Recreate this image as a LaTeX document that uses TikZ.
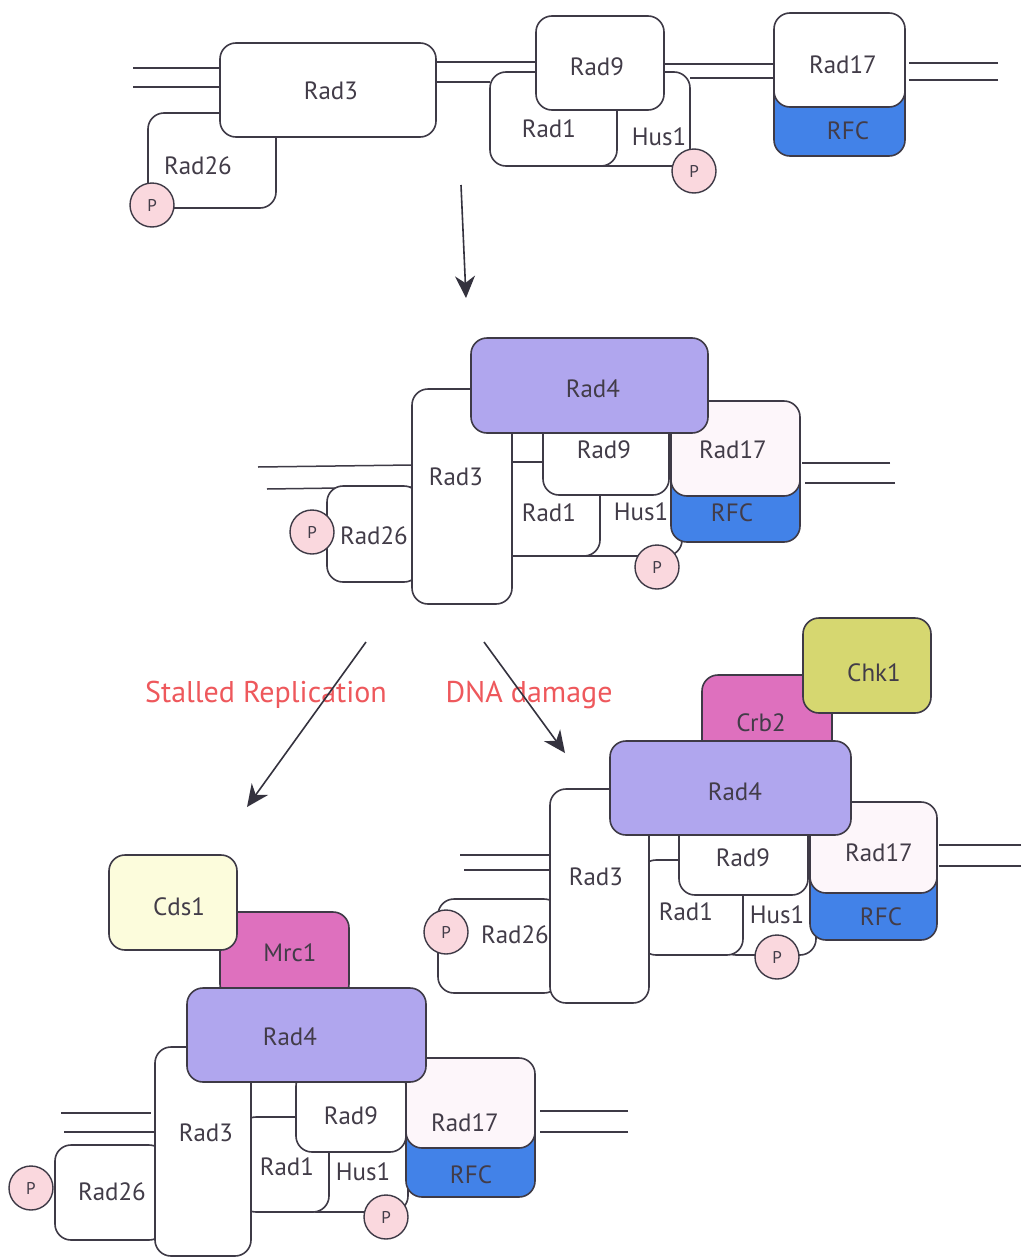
\documentclass[tikz,border=0pt]{standalone}
\usepackage{fontspec}
\setmainfont{PT Sans}
\usetikzlibrary{arrows.meta}

\definecolor{edge}{RGB}{62,58,70}
\definecolor{ink}{RGB}{66,60,72}
\definecolor{rad4}{RGB}{176,166,238}
\definecolor{rfc}{RGB}{66,130,232}
\definecolor{adaptor}{RGB}{222,112,190}
\definecolor{chk}{RGB}{214,215,112}
\definecolor{cds}{RGB}{252,252,220}
\definecolor{clamp}{RGB}{253,246,250}
\definecolor{phosfill}{RGB}{250,216,222}
\definecolor{signal}{RGB}{238,88,92}
\definecolor{arrowink}{RGB}{52,50,62}

\pgfdeclarelayer{paper}
\pgfdeclarelayer{strands}
\pgfsetlayers{paper,strands,main}

% a protein drawn as a rounded box: [style]{name}{x1}{y1}{x2}{y2}
\newcommand{\protein}[6][]{%
  \node[box,#1,minimum width={(#5-#3)*1pt},minimum height={(#6-#4)*1pt}]
    (#2) at ({(#3+#5)/2},{(#4+#6)/2}) {};}
% a protein name: {name}{x}{y}{text}
\newcommand{\pname}[4]{\node[lbl] (#1) at (#2,#3) {#4};}

\begin{document}
\begin{tikzpicture}[x=1pt,y=-1pt,
  box/.style={draw=edge,line width=1.6pt,rounded corners=16pt,fill=white,
    inner sep=0pt,outer sep=0pt},
  lbl/.style={text=ink,font=\fontsize{25}{27}\selectfont,inner sep=0pt,
    text height=17pt,text depth=0pt},
  phos/.style={circle,draw=edge,line width=1.4pt,fill=phosfill,
    minimum size=44pt,inner sep=0pt,text=ink,font=\fontsize{17}{18}\selectfont},
  dna/.style={draw=edge,line width=1.5pt},
  flow/.style={draw=arrowink,line width=1.6pt,
    -{Stealth[length=22pt,width=20pt,inset=7pt]}},
  cue/.style={text=signal,font=\fontsize{30}{33}\selectfont,inner sep=0pt,
    text height=21pt,text depth=0pt}]

\begin{pgfonlayer}{paper}
  \useasboundingbox[fill=white] (0,0) rectangle (1021,1258);
\end{pgfonlayer}

% ---------- resting complex on DNA ----------
\protein{r26a}{148}{113}{276}{208}
\protein{r3a}{220}{43}{436}{137}
\protein{h1a}{570}{72}{690}{166}
\protein{r1a}{490}{72}{617}{166}
\protein{r9a}{536}{16}{664}{110}
\protein[fill=rfc]{rfca}{774}{55}{905}{156}
\protein{r17a}{774}{13}{905}{107}
\node[phos] (pa1) at (152,205) {P};
\node[phos] (pa2) at (694,171) {P};
\pname{t-r3a}{331}{91}{Rad3}
\pname{t-r26a}{198}{166}{Rad26}
\pname{t-r9a}{597}{67}{Rad9}
\pname{t-r1a}{549}{129}{Rad1}
\pname{t-h1a}{659}{137}{Hus1}
\pname{t-r17a}{843}{65}{Rad17}
\pname{t-rfca}{848}{131}{RFC}

\begin{pgfonlayer}{strands}
  \coordinate (a-l1) at (133,68);  \draw[dna] (a-l1) -- (a-l1 -| r3a.west);
  \coordinate (a-l2) at (133,87);  \draw[dna] (a-l2) -- (a-l2 -| r3a.west);
  \coordinate (a-m1) at (436,62);  \draw[dna] (a-m1 -| r3a.east) -- (a-m1 -| r9a.west);
  \coordinate (a-m2) at (436,82);  \draw[dna] (a-m2 -| r3a.east) -- (a-m2 -| r1a.west);
  \coordinate (a-n1) at (664,64);  \draw[dna] (a-n1 -| r9a.east) -- (a-n1 -| r17a.west);
  \coordinate (a-n2) at (690,78);  \draw[dna] (a-n2 -| h1a.east) -- (a-n2 -| r17a.west);
  \coordinate (a-r1) at (998,63);  \draw[dna] (a-r1) -- ([xshift=4pt]a-r1 -| r17a.east);
  \coordinate (a-r2) at (998,80);  \draw[dna] (a-r2) -- ([xshift=4pt]a-r2 -| r17a.east);
\end{pgfonlayer}

% ---------- Rad4 recruited ----------
\protein{r26b}{327}{486}{420}{582}
\protein{h1b}{560}{462}{682}{556}
\protein{r1b}{495}{462}{600}{556}
\protein{r3b}{412}{389}{512}{604}
\protein{r9b}{543}{415}{669}{495}
\protein[fill=rfc]{rfcb}{671}{445}{800}{542}
\protein[fill=clamp]{r17b}{671}{401}{800}{496}
\protein[fill=rad4]{r4b}{471}{338}{708}{433}
\node[phos] (pb1) at (312,532) {P};
\node[phos] (pb2) at (657,567) {P};
\pname{t-r4b}{593}{389}{Rad4}
\pname{t-r3b}{456}{477}{Rad3}
\pname{t-r26b}{374}{536}{Rad26}
\pname{t-r9b}{604}{450}{Rad9}
\pname{t-r1b}{549}{513}{Rad1}
\pname{t-h1b}{641}{512}{Hus1}
\pname{t-r17b}{733}{450}{Rad17}
\pname{t-rfcb}{732}{513}{RFC}

\begin{pgfonlayer}{strands}
  \coordinate (b-l1) at (258,467); \draw[dna] (b-l1) -- ([yshift=2pt]b-l1 -| r3b.west);
  \coordinate (b-l2) at (267,489); \draw[dna] (b-l2) -- ([yshift=2pt]b-l2 -| r3b.west);
  \coordinate (b-r1) at (890,463); \draw[dna] (b-r1) -- ([xshift=2pt]b-r1 -| r17b.east);
  \coordinate (b-r2) at (895,483); \draw[dna] (b-r2) -- ([xshift=5pt]b-r2 -| r17b.east);
\end{pgfonlayer}

% ---------- DNA damage: Crb2 and Chk1 ----------
\protein{r26c}{438}{899}{560}{993}
\protein{h1c}{720}{860}{816}{955}
\protein{r1c}{640}{860}{743}{955}
\protein{r3c}{550}{789}{649}{1003}
\protein{r9c}{679}{820}{808}{895}
\protein[fill=rfc]{rfcc}{810}{845}{937}{940}
\protein[fill=clamp]{r17c}{810}{802}{937}{893}
\protein[fill=adaptor]{crb2}{702}{675}{832}{760}
\protein[fill=chk]{chk1}{803}{618}{931}{713}
\protein[fill=rad4]{r4c}{610}{741}{851}{835}
\node[phos] (pc1) at (446,932) {P};
\node[phos] (pc2) at (777,957) {P};
\pname{t-chk1}{874}{673}{Chk1}
\pname{t-crb2}{761}{723}{Crb2}
\pname{t-r4c}{735}{792}{Rad4}
\pname{t-r3c}{596}{877}{Rad3}
\pname{t-r26c}{515}{935}{Rad26}
\pname{t-r9c}{743}{858}{Rad9}
\pname{t-r1c}{686}{912}{Rad1}
\pname{t-h1c}{777}{915}{Hus1}
\pname{t-r17c}{879}{853}{Rad17}
\pname{t-rfcc}{881}{917}{RFC}

\begin{pgfonlayer}{strands}
  \coordinate (c-l1) at (460,855);  \draw[dna] (c-l1) -- (c-l1 -| r3c.west);
  \coordinate (c-l2) at (464,870);  \draw[dna] (c-l2) -- (c-l2 -| r3c.west);
  \coordinate (c-r1) at (1021,845); \draw[dna] (c-r1) -- ([xshift=2pt]c-r1 -| r17c.east);
  \coordinate (c-r2) at (1021,866); \draw[dna] (c-r2) -- ([xshift=2pt]c-r2 -| r17c.east);
\end{pgfonlayer}

% ---------- stalled replication: Mrc1 and Cds1 ----------
\protein{r26d}{55}{1145}{165}{1240}
\protein{h1d}{300}{1117}{408}{1212}
\protein{r1d}{240}{1117}{329}{1212}
\protein{r3d}{155}{1047}{251}{1256}
\protein{r9d}{296}{1070}{406}{1152}
\protein[fill=rfc]{rfcd}{406}{1100}{535}{1197}
\protein[fill=clamp]{r17d}{406}{1058}{535}{1148}
\protein[fill=adaptor]{mrc1}{220}{912}{349}{1000}
\protein[fill=cds]{cds1}{109}{855}{237}{950}
\protein[fill=rad4]{r4d}{187}{988}{426}{1082}
\node[phos] (pd1) at (31,1188) {P};
\node[phos] (pd2) at (386,1217) {P};
\pname{t-cds1}{179}{907}{Cds1}
\pname{t-mrc1}{290}{953}{Mrc1}
\pname{t-r4d}{290}{1037}{Rad4}
\pname{t-r3d}{206}{1133}{Rad3}
\pname{t-r26d}{112}{1192}{Rad26}
\pname{t-r9d}{351}{1116}{Rad9}
\pname{t-r1d}{287}{1167}{Rad1}
\pname{t-h1d}{363}{1172}{Hus1}
\pname{t-r17d}{465}{1123}{Rad17}
\pname{t-rfcd}{471}{1175}{RFC}

\begin{pgfonlayer}{strands}
  \coordinate (d-l1) at (61,1113);  \draw[dna] (d-l1) -- ([xshift=-4pt]d-l1 -| r3d.west);
  \coordinate (d-l2) at (64,1132);  \draw[dna] (d-l2) -- (d-l2 -| r3d.west);
  \coordinate (d-r1) at (628,1111); \draw[dna] (d-r1) -- ([xshift=5pt]d-r1 -| r17d.east);
  \coordinate (d-r2) at (628,1132); \draw[dna] (d-r2) -- ([xshift=5pt]d-r2 -| r17d.east);
\end{pgfonlayer}

% ---------- signals and transitions ----------
\node[cue] (stalled) at (266,692) {Stalled Replication};
\node[cue] (damage) at (529,692) {DNA damage};

\coordinate (f1s) at (461,185); \coordinate (f1e) at (466,298);
\coordinate (f2s) at (366,642); \coordinate (f2e) at (247,807);
\coordinate (f3s) at (484,642); \coordinate (f3e) at (565,753);
\draw[flow] (f1s) -- (f1e);
\draw[flow] (f2s) -- (f2e);
\draw[flow] (f3s) -- (f3e);
\end{tikzpicture}
\end{document}
